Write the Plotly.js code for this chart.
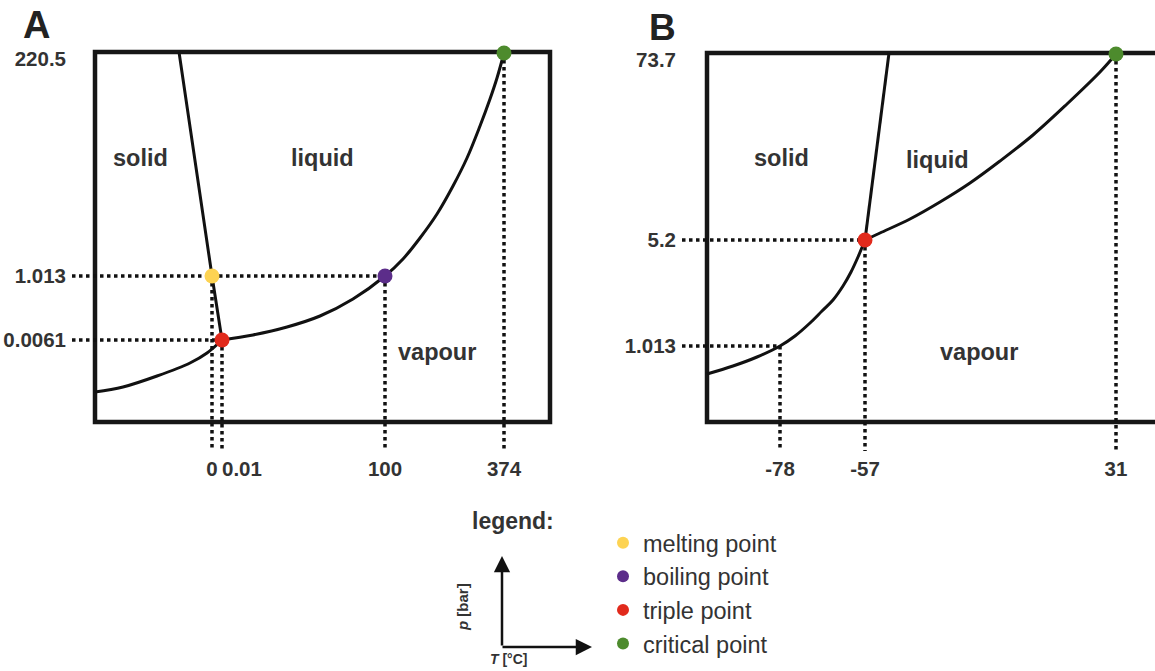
<!DOCTYPE html>
<html>
<head>
<meta charset="utf-8">
<script src="https://cdn.plot.ly/plotly-3.0.1.min.js"></script>
<style>html,body{margin:0;padding:0;background:#fff;overflow:hidden}</style>
</head>
<body>
<div id="chart" style="width:1155px;height:671px"></div>
<script>
// ---- Panel A (water), schematic coordinates (not to scale) ----
const A_meltT = [84, 101, 117, 127];
const A_meltP = [370, 252, 146, 82];
const A_sublT = [0, 28, 62, 95, 112, 127];
const A_sublP = [30, 35, 46, 59, 69, 82];
const A_vapT  = [127, 158, 192, 225, 258, 290, 308, 325, 342, 358, 372, 385, 395, 402, 409];
const A_vapP  = [82, 87, 95, 106, 123, 146, 163, 184, 208, 236, 264, 296, 323, 344, 369];
const A_melting  = [117, 146];
const A_boiling  = [290, 146];
const A_triple   = [127, 82];
const A_critical = [409, 369];
const A_xTickPos = [117, 127, 290, 409];
const A_xTickLab = ['0', '\u00a0\u00a0\u00a0\u00a0\u00a0\u00a0\u00a00.01', '100', '374'];
const A_yTickPos = [82, 146, 363];
const A_yTickLab = ['0.0061', '1.013', '220.5'];

// ---- Panel B (carbon dioxide) ----
const B_sublT = [0, 26, 50, 73, 88, 103, 115, 126, 136, 144, 151, 158];
const B_sublP = [48, 56, 65, 76, 86, 99, 111, 122, 136, 150, 165, 182];
const B_meltT = [158, 182];
const B_meltP = [182, 369];
const B_vapT  = [158, 173, 203, 233, 263, 293, 326, 360, 393, 409];
const B_vapP  = [182, 189, 203, 220, 239, 261, 287, 318, 350, 368];
const B_sublimation = [73, 76];
const B_triple   = [158, 182];
const B_critical = [409, 368];
const B_xTickPos = [73, 158, 409];
const B_xTickLab = ['-78', '-57', '31'];
const B_yTickPos = [76, 182, 362];
const B_yTickLab = ['1.013', '5.2', '73.7'];

const regionNames = ['solid', 'liquid', 'vapour'];
const legendNames = ['melting point', 'boiling point', 'triple point', 'critical point'];

// ---- styling ----
const FONT = 'Liberation Sans, Arial, Helvetica, sans-serif';
const TXT = '#333333';
const C_YEL = '#FDD352', C_PUR = '#5C2D8A', C_RED = '#E12A1C', C_GRN = '#4D8B2D';
const A_XR = [-23, 461], B_XR = [-25, 448], YR = [-29, 374];
const A_BOX = [455, 370], B_BOX = [480, 369];

function curve(x, y, xa, ya, shape) {
  return {x, y, xaxis: xa, yaxis: ya, mode: 'lines', type: 'scatter',
    line: {color: '#111', width: 3, shape: shape || 'spline', smoothing: 1},
    hoverinfo: 'skip', showlegend: false};
}
function dotted(pts, vertOnly, xmin, ymin, xa, ya) {
  const x = [], y = [];
  pts.forEach((p, i) => {
    if (!vertOnly[i]) { x.push(xmin, p[0], null); y.push(p[1], p[1], null); }
    x.push(p[0], p[0], null); y.push(p[1], ymin, null);
  });
  return {x, y, xaxis: xa, yaxis: ya, mode: 'lines', type: 'scatter',
    line: {color: '#111', width: 3.5, dash: 'dot'}, hoverinfo: 'skip', showlegend: false};
}
function pt(p, color, name, xa, ya, show) {
  return {x: [p[0]], y: [p[1]], xaxis: xa, yaxis: ya, mode: 'markers', type: 'scatter',
    marker: {color, size: 15}, name, legendgroup: name, showlegend: show,
    cliponaxis: false, hoverinfo: 'name'};
}

const traces = [
  dotted([A_boiling, A_triple, A_melting, A_critical], [false, false, true, true], A_XR[0], YR[0], 'x', 'y'),
  dotted([B_triple, B_sublimation, B_critical], [false, false, true], B_XR[0], YR[0], 'x2', 'y2'),
  curve(A_meltT, A_meltP, 'x', 'y', 'linear'),
  curve(A_sublT, A_sublP, 'x', 'y'),
  curve(A_vapT, A_vapP, 'x', 'y'),
  curve(B_sublT, B_sublP, 'x2', 'y2'),
  curve(B_meltT, B_meltP, 'x2', 'y2', 'linear'),
  curve(B_vapT, B_vapP, 'x2', 'y2'),
  pt(A_melting, C_YEL, legendNames[0], 'x', 'y', true),
  pt(A_boiling, C_PUR, legendNames[1], 'x', 'y', true),
  pt(A_triple, C_RED, legendNames[2], 'x', 'y', true),
  pt(A_critical, C_GRN, legendNames[3], 'x', 'y', true),
  pt(B_triple, C_RED, legendNames[2], 'x2', 'y2', false),
  pt(B_critical, C_GRN, legendNames[3], 'x2', 'y2', false)
];

const tickFont = {family: FONT, size: 20.5, color: TXT, weight: 'bold'};
function xax(dom, range, anchor, vals, labs) {
  return {domain: dom, range, anchor, tickvals: vals, ticktext: labs, tickangle: 0,
    ticks: '', showgrid: false, zeroline: false, showline: false, tickfont: tickFont,
    ticklabelstandoff: 3, fixedrange: true};
}
function yax(dom, range, anchor, vals, labs) {
  return {domain: dom, range, anchor, tickvals: vals, ticktext: labs,
    ticks: '', showgrid: false, zeroline: false, showline: false, tickfont: tickFont,
    ticklabelstandoff: 5, fixedrange: true};
}
const YDOM = [(671 - 451) / 671, (671 - 48) / 671];

function regionLabel(text, x, y, xa, ya) {
  return {text, x, y, xref: xa, yref: ya, showarrow: false, xanchor: 'center', yanchor: 'middle',
    font: {family: FONT, size: 23.5, color: TXT, weight: 'bold'}};
}
function paperText(text, px, py, size, extra) {
  return Object.assign({text, x: px / 1155, y: 1 - py / 671, xref: 'paper', yref: 'paper',
    showarrow: false, xanchor: 'center', yanchor: 'middle',
    font: {family: FONT, size, color: TXT, weight: 'bold'}}, extra || {});
}

const annotations = [
  regionLabel(regionNames[0], 45, 264, 'x', 'y'),
  regionLabel(regionNames[1], 227, 264, 'x', 'y'),
  regionLabel(regionNames[2], 342, 70, 'x', 'y'),
  regionLabel(regionNames[0], 74, 264, 'x2', 'y2'),
  regionLabel(regionNames[1], 230, 262, 'x2', 'y2'),
  regionLabel(regionNames[2], 272, 70, 'x2', 'y2'),
  paperText('A', 36, 25, 38, {font: {family: FONT, size: 38, color: '#222', weight: 'bold'}}),
  paperText('B', 662, 27, 37, {font: {family: FONT, size: 37, color: '#222', weight: 'bold'}}),
  paperText('legend:', 470, 521, 23, {xanchor: 'left'}),
  // axis icon
  {text: '', x: 502 / 1155, y: 1 - 556 / 671, xref: 'paper', yref: 'paper',
   showarrow: true, ax: 0, ay: 91, arrowhead: 2, arrowsize: 1.3, arrowwidth: 2.5, arrowcolor: '#111', standoff: 0},
  {text: '', x: 592 / 1155, y: 1 - 647 / 671, xref: 'paper', yref: 'paper',
   showarrow: true, ax: -91, ay: 0, arrowhead: 2, arrowsize: 1.3, arrowwidth: 2.5, arrowcolor: '#111', standoff: 0},
  paperText('<i>p</i> [bar]', 462, 607, 15, {textangle: -90}),
  paperText('<i>T</i> [°C]', 509, 659, 14)
];

const shapes = [
  {type: 'rect', xref: 'x', yref: 'y', x0: 0, y0: 0, x1: A_BOX[0], y1: A_BOX[1],
   line: {color: '#161616', width: 4.5}, layer: 'below'},
  {type: 'rect', xref: 'x2', yref: 'y2', x0: 0, y0: 0, x1: B_BOX[0], y1: B_BOX[1],
   line: {color: '#161616', width: 4.5}, layer: 'below'}
];

const layout = {
  width: 1155, height: 671,
  margin: {l: 0, r: 0, t: 0, b: 0},
  paper_bgcolor: '#fff', plot_bgcolor: 'rgba(0,0,0,0)',
  xaxis: xax([72 / 1155, 556 / 1155], A_XR, 'y', A_xTickPos, A_xTickLab),
  yaxis: yax(YDOM, YR, 'x', A_yTickPos, A_yTickLab),
  xaxis2: xax([682 / 1155, 1], B_XR, 'y2', B_xTickPos, B_xTickLab),
  yaxis2: yax(YDOM, YR, 'x2', B_yTickPos, B_yTickLab),
  showlegend: true,
  legend: {x: 603 / 1155, y: 1 - 521 / 671, xanchor: 'left', yanchor: 'top',
    font: {family: FONT, size: 23.5, color: TXT}, bgcolor: 'rgba(0,0,0,0)',
    itemsizing: 'constant', tracegroupgap: 0, traceorder: 'normal'},
  annotations, shapes
};

Plotly.newPlot('chart', traces, layout, {staticPlot: true, displayModeBar: false});
</script>
</body>
</html>
